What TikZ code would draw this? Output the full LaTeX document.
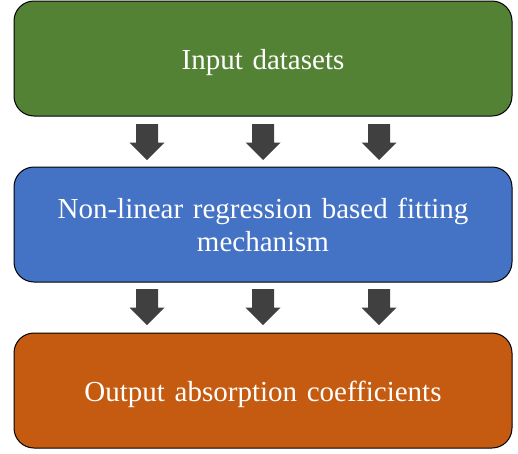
\documentclass[tikz,border=0pt]{standalone}
\usepackage{fontspec}
\setmainfont{Liberation Serif}
\definecolor{boxgreen}{HTML}{548235}
\definecolor{boxblue}{HTML}{4472C4}
\definecolor{boxorange}{HTML}{C55A11}
\definecolor{arrowgray}{HTML}{404040}
\begin{document}
\begin{tikzpicture}[x=1pt,y=-1pt,
  stagebox/.style={draw=black, line width=1pt, rounded corners=20pt, minimum width=498pt, minimum height=115pt,
    text=white, font=\fontsize{29}{33.3}\selectfont, align=center, inner sep=0pt, text width=480pt,
    text height=21pt, text depth=0pt},
  blockarrow/.style={fill=arrowgray, draw=none}]
\useasboundingbox (0,0) rectangle (518,453);
\node[stagebox, fill=boxgreen] (b1) at (263,58.5) {Input datasets};
\node[stagebox, fill=boxblue, text depth=33.3pt] (b2) at (263,224.5) {Non-linear regression based fitting\\mechanism};
\node[stagebox, fill=boxorange] (b3) at (263,390.5) {Output absorption coefficients};
\foreach \cx in {147,263,379}{
  \foreach \ytop in {124,289}{
    \fill[blockarrow] (\cx-11,\ytop) -- (\cx+11,\ytop) -- (\cx+11,\ytop+18.5) -- (\cx+17.5,\ytop+18.5)
      -- (\cx,\ytop+36) -- (\cx-17.5,\ytop+18.5) -- (\cx-11,\ytop+18.5) -- cycle;
  }
}
\end{tikzpicture}
\end{document}
